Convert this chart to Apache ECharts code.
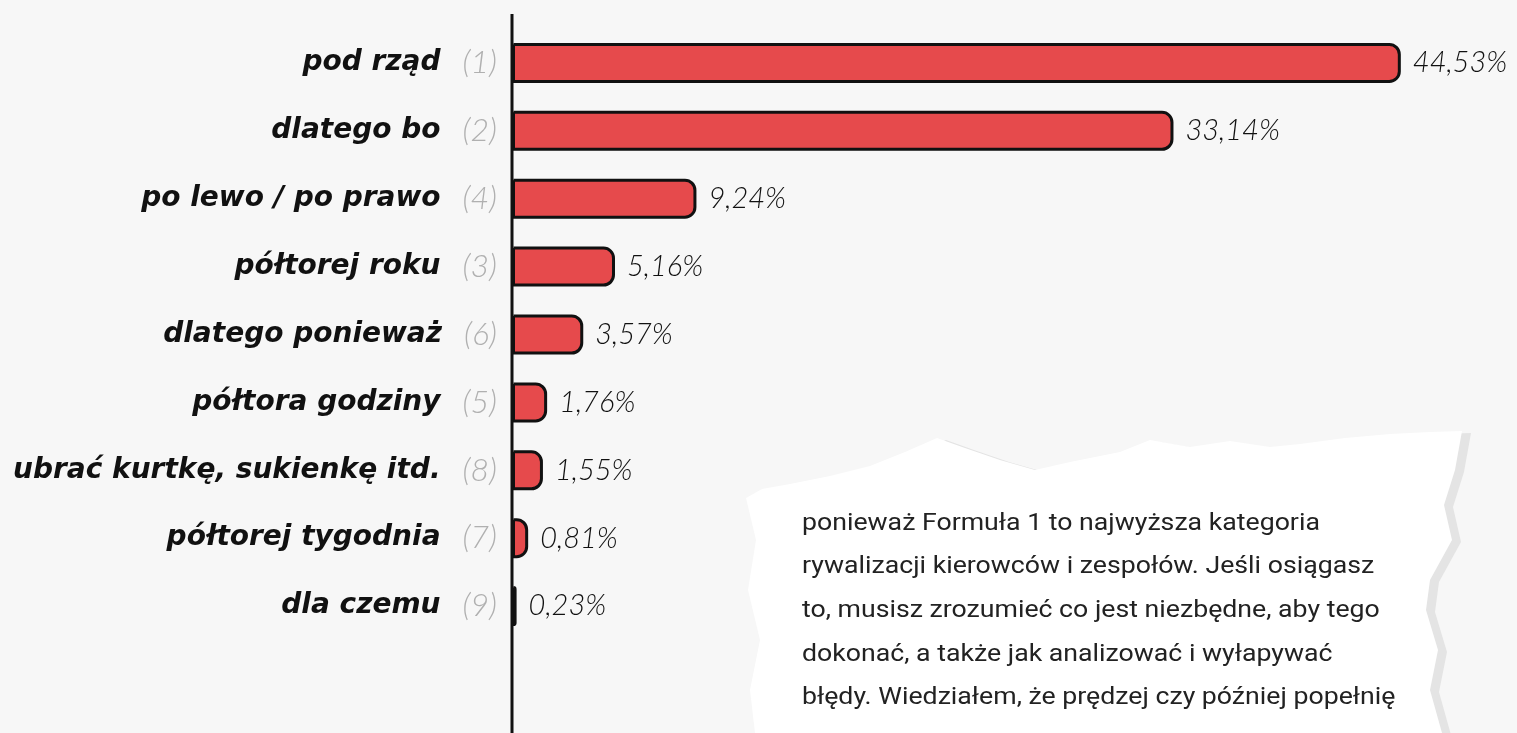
<!DOCTYPE html>
<html>
<head>
<meta charset="utf-8">
<script src="https://cdn.jsdelivr.net/npm/echarts@6/dist/echarts.min.js"></script>
<style>
  html, body { margin: 0; padding: 0; background: #f7f7f7; }
  #chart { width: 1517px; height: 733px; }
</style>
</head>
<body>
<div id="chart"></div>
<script>
// kategorie od góry do dołu
const categories = ['pod rząd', 'dlatego bo', 'po lewo / po prawo', 'półtorej roku', 'dlatego ponieważ',
  'półtora godziny', 'ubrać kurtkę, sukienkę itd.', 'półtorej tygodnia', 'dla czemu'];
const ranks = [1, 2, 4, 3, 6, 5, 8, 7, 9];
const values = [44.53, 33.14, 9.24, 5.16, 3.57, 1.76, 1.55, 0.81, 0.23];

const noteLines = [
  'ponieważ Formuła 1 to najwyższa kategoria',
  'rywalizacji kierowców i zespołów. Jeśli osiągasz',
  'to, musisz zrozumieć co jest niezbędne, aby tego',
  'dokonać, a także jak analizować i wyłapywać',
  'błędy. Wiedziałem, że prędzej czy później popełnię'
];

const paper = [[746, 498], [762, 489], [790, 484], [830, 476], [870, 466], [905, 452], [937, 438],
  [965, 448], [1000, 460], [1035, 470], [1070, 462], [1120, 452], [1150, 440], [1190, 447],
  [1230, 441], [1270, 447], [1300, 444], [1345, 438], [1390, 434], [1430, 432], [1462, 431],
  [1455, 470], [1444, 505], [1452, 540], [1430, 580], [1426, 610], [1438, 650], [1430, 690],
  [1442, 733], [755, 733], [750, 690], [760, 640], [748, 590], [756, 540]];

const chart = echarts.init(document.getElementById('chart'));

chart.setOption({
  backgroundColor: '#f7f7f7',
  animation: false,
  grid: { left: 512, right: 7, top: 29, bottom: 93 },
  xAxis: {
    type: 'value', min: 0, max: 50, show: false
  },
  yAxis: {
    type: 'category',
    data: categories,
    inverse: true,
    axisLine: { show: false },
    axisTick: { show: false },
    axisLabel: {
      margin: 15,
      formatter: function (v, i) {
        return '{n|' + v + '}{r|(' + ranks[i] + ')}';
      },
      rich: {
        n: { fontFamily: 'DejaVu Sans', fontWeight: 'bold', fontStyle: 'italic', fontSize: 28, color: '#111' },
        r: { fontFamily: 'Lato', fontStyle: 'italic', fontWeight: 300, fontSize: 32, color: '#b0b0b0', padding: [0, 0, 0, 22] }
      }
    }
  },
  series: [{
    type: 'bar',
    data: values,
    barWidth: 40,
    itemStyle: {
      color: '#e64a4c',
      borderColor: '#111',
      borderWidth: 3,
      borderRadius: [0, 10, 10, 0]
    },
    label: {
      show: true,
      position: 'right',
      distance: 12,
      fontFamily: 'Lato',
      fontStyle: 'italic',
      fontWeight: 300,
      fontSize: 29,
      color: '#111',
      formatter: function (p) { return p.value.toFixed(2).replace('.', ',') + '%'; }
    }
  }],
  graphic: [
    { type: 'line', z: 10, shape: { x1: 512, y1: 14, x2: 512, y2: 733 }, style: { stroke: '#111', lineWidth: 3 } },
    { type: 'polygon', z: 20, shape: { points: paper.map(p => [p[0] + 9, p[1] + 2]) }, style: { fill: '#e4e4e4' } },
    { type: 'polygon', z: 21, shape: { points: paper }, style: { fill: '#ffffff' } }
  ].concat(noteLines.map((t, i) => ({
    type: 'text', z: 22, x: 802, y: 524 + i * 43.6, scaleX: 1.16,
    style: { text: t, x: 0, y: 0, verticalAlign: 'middle', fontFamily: 'Roboto', fontSize: 23, fill: '#222' }
  })))
});
</script>
</body>
</html>
